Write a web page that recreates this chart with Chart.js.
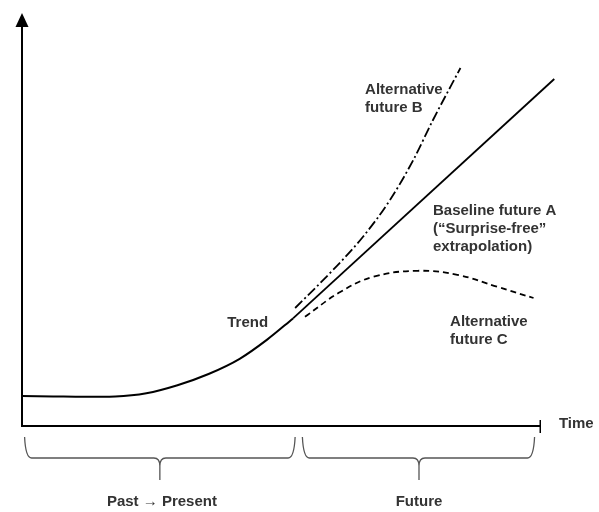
<!DOCTYPE html>
<html>
<head>
<meta charset="utf-8">
<script src="https://cdn.jsdelivr.net/npm/chart.js@4"></script>
<style>
  body { margin: 0; background: #fff; }
  #wrap { width: 599px; height: 512px; }
</style>
</head>
<body>
<div id="wrap"><canvas id="chart" width="599" height="512"></canvas></div>
<script>
// time runs 0..100 along the axis, value 0..100 up the axis
var trendT = [0, 6, 12, 18, 24, 30, 36, 42, 47.3, 52.3];
var trendV = [7.5, 7.4, 7.3, 7.4, 8.2, 10.2, 13.0, 16.8, 21.6, 26.9];

var baseT = [52.3, 102.7];
var baseV = [26.9, 86.75];

var altBT = [52.7, 60.0, 65.8, 71.0, 75.5, 79.3, 84.6];
var altBV = [29.5, 39.0, 47.3, 56.5, 66.5, 76.5, 89.5];

var altCT = [54.6, 61.4, 67.8, 76.3, 84.0, 91.7, 98.7];
var altCV = [27.3, 33.5, 37.3, 38.8, 37.8, 34.8, 32.0];

var axisEnd = 100;

// text notes, anchored in chart units
var notes = [
  { lines: ['Alternative', 'future B'], t: 66.2, v: 84, align: 'left' },
  { lines: ['Baseline future A', '(\u201cSurprise-free\u201d', 'extrapolation)'], t: 79.3, v: 53.75, align: 'left' },
  { lines: ['Alternative', 'future C'], t: 82.6, v: 26, align: 'left' },
  { lines: ['Trend'], t: 39.6, v: 25.75, align: 'left' },
  { lines: ['Time'], t: 103.6, v: 0.5, align: 'left' },
  { lines: ['Past \u2192 Present'], t: 27.0, v: -19, align: 'center' },
  { lines: ['Future'], t: 76.6, v: -19, align: 'center' }
];

// braces under the time axis: from, to, tip
var braces = [
  { from: 0.5, to: 52.7, tip: 26.6 },
  { from: 54.1, to: 98.9, tip: 76.6 }
];

function pts(ts, vs){
    var out = [];
    for (var i = 0; i < ts.length; i++) out.push({x: ts[i], y: vs[i]});
    return out;
}

var diagram = {
  id: 'diagram',
  afterDraw: function(chart){
    var ctx = chart.ctx;
    var xs = chart.scales.x, ys = chart.scales.y;
    var x0 = xs.getPixelForValue(0), y0 = ys.getPixelForValue(0);
    var xe = xs.getPixelForValue(axisEnd);
    var top = chart.chartArea.top;

    ctx.save();
    ctx.strokeStyle = '#000';
    ctx.fillStyle = '#000';
    ctx.lineWidth = 2;
    // y axis with arrow
    ctx.beginPath();
    ctx.moveTo(x0, y0 + 1);
    ctx.lineTo(x0, top);
    ctx.stroke();
    ctx.beginPath();
    ctx.moveTo(x0, top - 13);
    ctx.lineTo(x0 - 6.5, top + 1);
    ctx.lineTo(x0 + 6.5, top + 1);
    ctx.closePath();
    ctx.fill();
    // x axis with end tick
    ctx.beginPath();
    ctx.moveTo(x0 - 1, y0);
    ctx.lineTo(xe, y0);
    ctx.stroke();
    ctx.lineWidth = 1.5;
    ctx.beginPath();
    ctx.moveTo(xe, y0 - 6);
    ctx.lineTo(xe, y0 + 7);
    ctx.stroke();

    // braces
    ctx.strokeStyle = '#555';
    ctx.lineWidth = 1.3;
    var by0 = ys.getPixelForValue(-2.75), by1 = ys.getPixelForValue(-8), by2 = ys.getPixelForValue(-13.5);
    braces.forEach(function(b){
        var L = xs.getPixelForValue(b.from), R = xs.getPixelForValue(b.to), M = xs.getPixelForValue(b.tip);
        ctx.beginPath();
        ctx.moveTo(L, by0);
        ctx.quadraticCurveTo(L + 1, by1, L + 7, by1);
        ctx.lineTo(M - 6, by1);
        ctx.quadraticCurveTo(M, by1, M, by1 + 8);
        ctx.lineTo(M, by2);
        ctx.moveTo(M, by1 + 8);
        ctx.quadraticCurveTo(M, by1, M + 6, by1);
        ctx.lineTo(R - 7, by1);
        ctx.quadraticCurveTo(R - 1, by1, R, by0);
        ctx.stroke();
    });

    // notes
    ctx.fillStyle = '#333';
    ctx.font = 'bold 15px "Liberation Sans", Arial, sans-serif';
    ctx.textBaseline = 'middle';
    notes.forEach(function(n){
        ctx.textAlign = n.align;
        var px = xs.getPixelForValue(n.t), py = ys.getPixelForValue(n.v);
        n.lines.forEach(function(s, i){ ctx.fillText(s, px, py + i * 18); });
    });
    ctx.restore();
  }
};

new Chart(document.getElementById('chart'), {
  type: 'line',
  data: {
    datasets: [
      { label: 'Trend', data: pts(trendT, trendV), borderColor: '#000', borderWidth: 2,
        cubicInterpolationMode: 'monotone' },
      { label: 'Baseline future A', data: pts(baseT, baseV), borderColor: '#000', borderWidth: 1.8, tension: 0 },
      { label: 'Alternative future B', data: pts(altBT, altBV), borderColor: '#000', borderWidth: 1.8,
        borderDash: [10, 3, 2, 3], cubicInterpolationMode: 'monotone' },
      { label: 'Alternative future C', data: pts(altCT, altCV), borderColor: '#000', borderWidth: 1.8,
        borderDash: [6, 4], tension: 0.4 }
    ]
  },
  options: {
    responsive: false,
    animation: false,
    layout: { padding: { left: 22, right: 38, top: 26, bottom: 86 } },
    elements: { point: { radius: 0 } },
    plugins: { legend: { display: false }, tooltip: { enabled: false } },
    scales: {
      x: { type: 'linear', min: 0, max: 104, display: false },
      y: { min: 0, max: 100, display: false }
    }
  },
  plugins: [diagram]
});
</script>
</body>
</html>
